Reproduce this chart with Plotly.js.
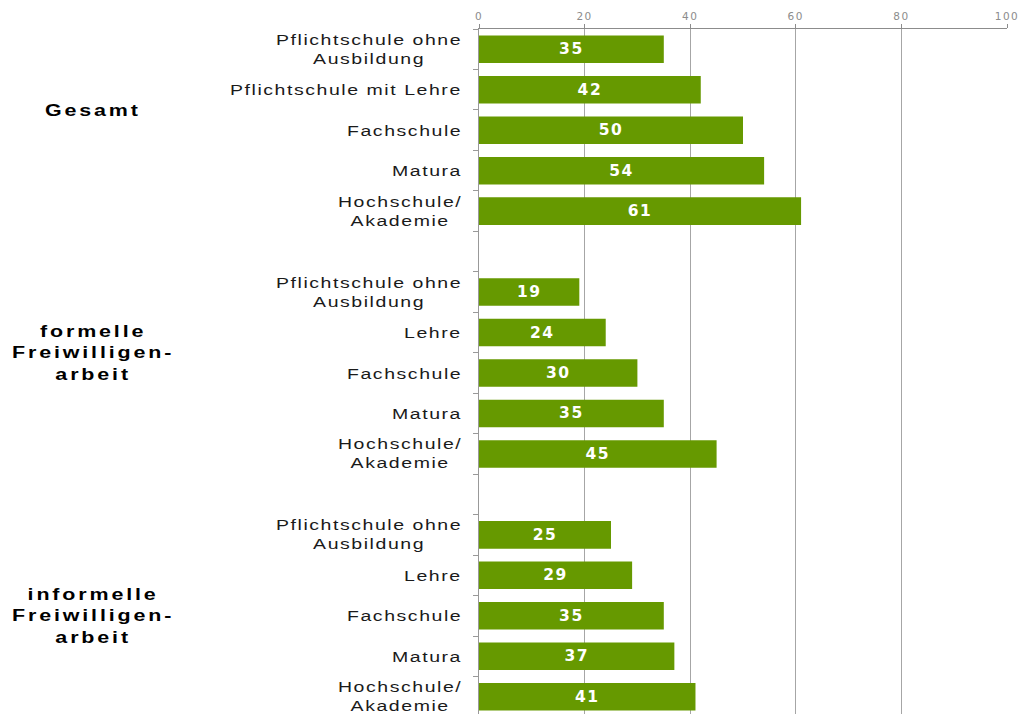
<!DOCTYPE html>
<html>
<head>
<meta charset="utf-8">
<script src="https://cdn.plot.ly/plotly-3.0.1.min.js"></script>
<style>
  html, body { margin: 0; padding: 0; overflow: hidden; background: #fff; }
  #chart { width: 1020px; height: 717px; }
  text.annotation-text {
    letter-spacing: 1.2px;
    transform: scaleX(1.3);
    transform-box: fill-box;
    transform-origin: center;
  }
  text.annotation-text[style*="bold"] { letter-spacing: 2.2px; }
  text.bartext { letter-spacing: 1.5px; }
  .xtick text { letter-spacing: 1.5px; }
</style>
</head>
<body>
<div id="chart"></div>
<script>
// ---- data ----
const groupLabels = ['Gesamt', 'formelle<br>Freiwilligen-<br>arbeit', 'informelle<br>Freiwilligen-<br>arbeit'];
const catsGesamt = ['Pflichtschule ohne<br>Ausbildung', 'Pflichtschule mit Lehre', 'Fachschule', 'Matura', 'Hochschule/<br>Akademie'];
const catsFormell = ['Pflichtschule ohne<br>Ausbildung', 'Lehre', 'Fachschule', 'Matura', 'Hochschule/<br>Akademie'];
const catsInformell = ['Pflichtschule ohne<br>Ausbildung', 'Lehre', 'Fachschule', 'Matura', 'Hochschule/<br>Akademie'];
const valsGesamt = [35, 42, 50, 54, 61];
const valsFormell = [19, 24, 30, 35, 45];
const valsInformell = [25, 29, 35, 37, 41];
const xTicks = [0, 20, 40, 60, 80, 100];

// ---- build positions (each group of 5 followed by one empty slot) ----
const groups = [
  {cats: catsGesamt, vals: valsGesamt},
  {cats: catsFormell, vals: valsFormell},
  {cats: catsInformell, vals: valsInformell}
];
const slot = 6;
const ys = [], xs = [], labels = [];
groups.forEach((g, gi) => {
  g.cats.forEach((c, i) => {
    ys.push(gi * slot + i);
    xs.push(g.vals[i]);
    labels.push(c);
  });
});
const nSlots = groups.length * slot - 1;
// vertical anchor of group labels (in slot units)
const groupLabelPos = [1.5, 7.5, 14.0];

const trace = {
  type: 'bar',
  orientation: 'h',
  x: xs,
  y: ys,
  width: 0.68,
  marker: {color: '#669900'},
  text: xs.map(String),
  textposition: 'inside',
  insidetextanchor: 'middle',
  textangle: 0,
  textfont: {family: 'DejaVu Sans', size: 15.5, color: '#ffffff', weight: 'bold'},
  hoverinfo: 'none',
  cliponaxis: false
};

const annotations = [];
labels.forEach((t, i) => {
  annotations.push({
    text: t, xref: 'paper', yref: 'y', x: 0, y: ys[i],
    xanchor: 'right', yanchor: 'middle', xshift: -15, align: 'center',
    showarrow: false,
    font: {family: 'Liberation Sans', size: 15, color: '#1a1a1a'}
  });
});
groupLabels.forEach((t, gi) => {
  annotations.push({
    text: t, xref: 'paper', yref: 'y', x: -0.731, y: groupLabelPos[gi],
    xanchor: 'center', yanchor: 'middle', align: 'center',
    showarrow: false,
    font: {family: 'Liberation Sans', size: 16.5, color: '#000000', weight: 'bold'}
  });
});

const layout = {
  width: 1020,
  height: 717,
  margin: {l: 479, r: 13, t: 29, b: 0, pad: 0},
  paper_bgcolor: '#ffffff',
  plot_bgcolor: '#ffffff',
  showlegend: false,
  xaxis: {
    side: 'top',
    range: [0, 100],
    tickvals: xTicks,
    ticktext: xTicks.map(String),
    showgrid: true,
    gridcolor: '#a6a6a6',
    gridwidth: 1,
    zeroline: false,
    showline: true,
    linecolor: '#8c8c8c',
    ticks: 'outside',
    ticklen: 4,
    tickcolor: '#8c8c8c',
    tickfont: {family: 'DejaVu Sans', size: 10.5, color: '#8c8c8c'},
    fixedrange: true
  },
  yaxis: {
    range: [nSlots - 0.5, -0.5],
    tickvals: ys,
    ticktext: labels,
    showticklabels: false,
    ticks: '',
    showgrid: false,
    zeroline: false,
    showline: true,
    linecolor: '#999999',
    minor: {tickmode: 'linear', tick0: -0.5, dtick: 1, ticks: 'outside', ticklen: 5, tickcolor: '#999999', showgrid: false},
    fixedrange: true
  },
  annotations: annotations
};

Plotly.newPlot('chart', [trace], layout, {displayModeBar: false, staticPlot: true});
</script>
</body>
</html>
